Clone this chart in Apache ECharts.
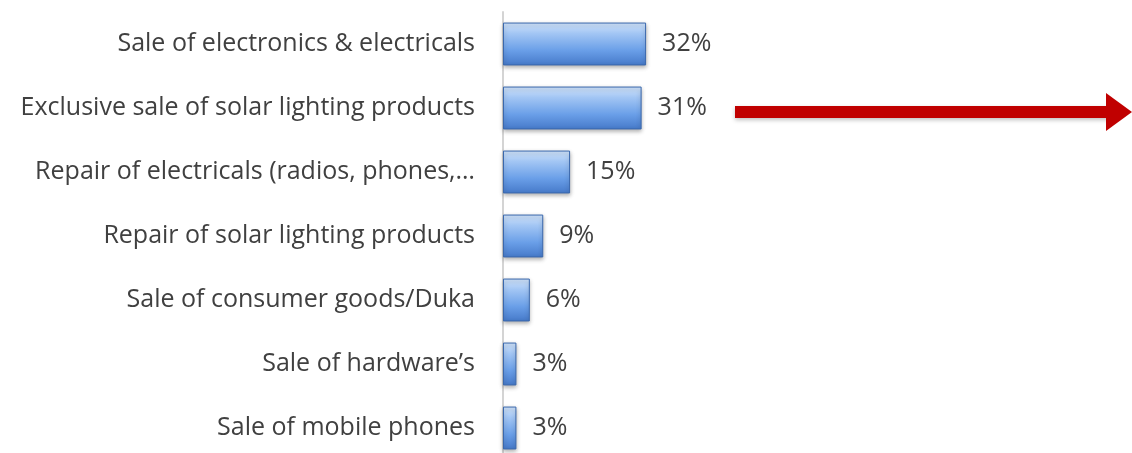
<!DOCTYPE html>
<html>
<head>
<meta charset="utf-8">
<script src="https://cdn.jsdelivr.net/npm/echarts@6/dist/echarts.min.js"></script>
<style>
  html, body { margin: 0; padding: 0; background: #fff; }
  #chart { width: 1132px; height: 453px; }
</style>
</head>
<body>
<div id="chart"></div>
<script>
// categories, top to bottom
var categories = [
    'Sale of electronics & electricals',
    'Exclusive sale of solar lighting products',
    'Repair of electricals (radios, phones,\u2026',
    'Repair of solar lighting products',
    'Sale of consumer goods/Duka',
    'Sale of hardware\u2019s',
    'Sale of mobile phones'
];
var shares = [32, 31, 15, 9, 6, 3, 3];

var chart = echarts.init(document.getElementById('chart'));

var barFill = new echarts.graphic.LinearGradient(0, 0, 0, 1, [
    {offset: 0, color: '#d2e5fc'},
    {offset: 0.25, color: '#a3c6f4'},
    {offset: 0.65, color: '#6a9fe8'},
    {offset: 1, color: '#4579c9'}
]);

var option = {
    backgroundColor: '#ffffff',
    grid: {
        left: 503,
        top: 12,
        width: 626,
        height: 448,
        outerBoundsMode: 'none'
    },
    xAxis: {
        type: 'value',
        min: 0,
        max: 140,
        show: false
    },
    yAxis: {
        type: 'category',
        data: categories,
        inverse: true,
        axisLine: {show: true, lineStyle: {color: '#d4d4d4', width: 2}},
        axisTick: {show: false},
        axisLabel: {
            margin: 28,
            color: '#404040',
            fontFamily: 'Open Sans',
            fontSize: 25
        }
    },
    series: [
        {
            type: 'bar',
            data: shares,
            barWidth: '67%',
            itemStyle: {
                color: barFill,
                borderColor: '#3a68ad',
                borderWidth: 1,
                shadowColor: 'rgba(0,0,0,0.3)',
                shadowBlur: 4,
                shadowOffsetY: 2
            },
            label: {
                show: true,
                position: 'right',
                distance: 16,
                formatter: '{c}%',
                color: '#404040',
                fontFamily: 'Open Sans',
                fontSize: 25
            }
        }
    ],
    graphic: [
        {
            type: 'rect',
            shape: {x: 735, y: 106, width: 375, height: 12},
            style: {fill: '#c00000', shadowColor: 'rgba(0,0,0,0.25)', shadowBlur: 4, shadowOffsetY: 2}
        },
        {
            type: 'polygon',
            shape: {points: [[1106, 93], [1132, 112], [1106, 131]]},
            style: {fill: '#c00000'}
        }
    ]
};
chart.setOption(option);
window.onresize = chart.resize;
</script>
</body>
</html>
